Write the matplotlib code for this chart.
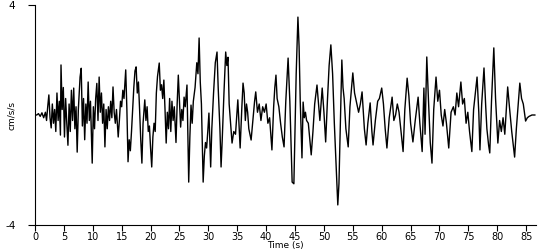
import matplotlib
matplotlib.use("Agg")
import matplotlib.pyplot as plt

# time (s) and acceleration (cm/s/s)
t = [0, 0.3, 0.6, 0.9, 1.2, 1.5, 1.8, 2.0, 2.2, 2.4, 2.6, 2.8, 3.0, 3.2, 3.4, 3.6, 3.8, 4.0, 4.2, 4.4,
     4.5, 4.7, 4.9, 5.1, 5.3, 5.5, 5.7, 5.9, 6.1, 6.3, 6.5, 6.7, 6.9, 7.1, 7.3, 7.5, 7.8, 8.0, 8.2, 8.4,
     8.6, 8.8, 9.0, 9.2, 9.4, 9.6, 9.9, 10.1, 10.3, 10.5, 10.7, 10.9, 11.1, 11.3, 11.5, 11.7, 11.9, 12.1, 12.3, 12.5,
     12.7, 12.9, 13.1, 13.3, 13.5, 13.7, 13.9, 14.1, 14.4, 14.6, 14.8, 15.0, 15.2, 15.4, 15.7, 15.9, 16.1, 16.3, 16.5, 16.7,
     16.9, 17.1, 17.3, 17.5, 17.7, 17.9, 18.1, 18.3, 18.5, 18.7, 19.0, 19.2, 19.4, 19.6, 19.8, 20.0, 20.2, 20.4, 20.6, 20.8,
     21.0, 21.2, 21.5, 21.7, 21.9, 22.1, 22.3, 22.5, 22.7, 22.9, 23.1, 23.3, 23.5, 23.7, 23.9, 24.1, 24.4, 24.6, 24.8, 25.0,
     25.2, 25.4, 25.6, 25.8, 26.0, 26.3, 26.6, 26.8, 27.0, 27.2, 27.4, 27.7, 28.0, 28.2, 28.4, 28.6, 28.8, 29.1, 29.3, 29.5,
     29.7, 29.9, 30.1, 30.4, 30.6, 30.9, 31.2, 31.5, 31.7, 32.0, 32.2, 32.4, 32.7, 33.0, 33.2, 33.4, 33.6, 34.1, 34.4, 34.7,
     35.1, 35.5, 35.8, 36.0, 36.2, 36.4, 36.6, 36.8, 37.0, 37.4, 37.7, 38.0, 38.2, 38.5, 38.8, 39.1, 39.4, 39.7, 40.0, 40.3,
     40.6, 41.0, 41.3, 41.5, 41.7, 41.9, 42.2, 42.5, 42.8, 43.1, 43.4, 43.8, 44.1, 44.5, 44.8, 45.0, 45.2, 45.5, 45.7, 45.9,
     46.2, 46.4, 46.6, 46.8, 47.0, 47.3, 47.8, 48.1, 48.4, 48.8, 49.1, 49.3, 49.7, 50.0, 50.3, 50.6, 50.9, 51.2, 51.5, 51.8,
     52.1, 52.4, 52.6, 52.9, 53.1, 53.3, 53.5, 53.8, 54.2, 54.5, 55.0, 55.3, 55.6, 56.0, 56.3, 56.6, 57.0, 57.3, 57.6, 58.0,
     58.3, 58.5, 58.9, 59.3, 59.6, 60.0, 60.3, 60.6, 60.9, 61.3, 61.8, 62.1, 62.4, 62.7, 63.0, 63.3, 63.7, 64.0, 64.4, 64.7,
     65.0, 65.4, 65.8, 66.3, 66.6, 67.0, 67.3, 67.5, 67.8, 68.1, 68.4, 68.7, 69.0, 69.4, 69.7, 70.0, 70.3, 70.6, 70.9, 71.2,
     71.6, 72.0, 72.4, 72.7, 73.0, 73.3, 73.7, 74.0, 74.3, 74.6, 74.9, 75.2, 75.6, 75.9, 76.2, 76.5, 76.8, 77.0, 77.3, 77.7,
     78.0, 78.2, 78.5, 78.7, 79.0, 79.4, 79.7, 80.1, 80.4, 80.7, 81.0, 81.3, 81.8, 82.1, 82.5, 83.0, 83.3, 83.9, 84.2, 84.5,
     84.9, 85.2, 85.5, 86.0, 86.5]
acc = [0, 0, 0.05, -0.05, 0.08, -0.1, 0.1, -0.2, 0.3, 0.73, -0.1, -0.47, 0.4, -0.3, 0.2, -0.6, 0.8, -0.2, 0.5, -0.73,
       1.82, 0.2, 1.0, -0.8, 0.6, -0.3, -1.1, 0.4, -0.6, 0.9, -0.2, 0.98, -0.5, 0.3, -1.35, 0.2, 1.38, 1.7, -0.4, 0.6,
       -0.9, 0.4, -0.3, 1.2, -0.2, 0.5, -1.75, 0.3, -0.5, 0.6, 1.15, -0.2, 1.38, 0.1, 0.8, -0.3, 0.4, -1.16, 0.2, -0.5,
       0.3, -0.2, 0.5, -0.1, 1.02, 0.1, -0.3, 0.2, -0.8, -0.2, 0.5, 0.3, 0.9, 0.6, 1.64, 0.2, -1.7, -0.9, -1.3, -0.6,
       0.2, 1.0, 1.6, 1.75, 0.8, 1.2, 0.2, -0.9, -1.75, -0.3, 0.55, -0.2, 0.3, -0.6, -0.4, -1.2, -1.89, -0.8, -0.3, -0.6,
       0.8, 1.4, 1.89, 0.9, 1.1, 0.6, 1.27, 0.2, -1.02, 0.1, -0.5, 0.6, -0.6, 0.5, -0.2, 0.3, -1.0, 0.4, 1.45, 0.5,
       -0.44, 0.2, -0.2, 0.65, 0.3, 1.09, -2.44, -0.8, 0.36, -0.3, 0.5, 1.0, 1.9, 1.5, 2.8, 1.2, 0.4, -2.44, -1.5, -1.0,
       -1.2, -0.6, 0.07, -1.89, -0.5, 0.8, 1.9, 2.29, 1.0, -0.5, -1.89, -0.9, 0.8, 2.29, 1.8, 2.1, 0.4, -1.02, -0.6, -0.7,
       0.55, -1.2, 0.3, 1.16, 0.8, -0.2, 0.4, 0.1, -0.5, -0.91, -0.2, 0.5, 0.84, 0.1, 0.4, -0.2, 0.3, 0.1, 0.4, -0.3,
       -0.1, -1.27, 0.3, 1.0, 1.45, 0.6, 0.3, -0.3, -0.8, -1.16, 0.5, 2.07, 0.5, -2.44, -2.5, -0.5, 1.5, 3.56, 2.5, 0.5,
       -1.56, 0.47, -0.1, 0.1, -0.2, -0.3, -1.45, -0.6, 0.4, 1.09, 0.3, -0.2, 0.98, 0.1, -0.98, 0.5, 1.8, 2.55, 1.5, -0.3,
       -1.8, -3.27, -2.5, 0.2, 2.0, 1.0, 0.6, -0.5, -1.16, 0.3, 1.53, 0.8, 0.5, 0.1, 0.4, 0.84, -0.5, -1.09, -0.3, 0.44,
       -0.6, -1.09, -0.2, 0.5, 0.6, 0.98, 0.4, -0.5, -1.2, -0.1, 0.65, -0.2, 0.0, 0.4, 0.1, -0.5, -1.33, 0.2, 1.34, 0.7,
       -0.3, -0.98, -0.2, 0.65, -0.3, -1.33, 0.98, -0.7, 2.11, 0.5, -1.0, -1.75, 0.2, 1.38, 0.5, 0.9, 0.0, -0.4, 0.2, -0.3,
       -1.2, 0.1, 0.3, 0.0, 0.8, 0.3, 1.2, 0.4, 0.6, -0.3, 0.1, -0.6, -1.33, 0.2, 0.8, 1.38, 0.1, -1.27, 0.4, 1.71,
       0.3, -0.5, -1.1, -1.38, 0.5, 2.44, 0.6, -1.02, -0.2, -0.6, -0.1, -0.7, 1.02, 0.3, -0.6, -1.53, -0.5, 1.16, 0.6, 0.4,
       -0.22, -0.1, -0.05, 0.0, 0.0]

fig = plt.figure(figsize=(5.5, 2.5), dpi=100)
ax = fig.add_axes([35/550, 25/250, 501/550, 220/250])
ax.plot(t, acc, color="black", lw=1.0)

ax.set_xlim(0, 86.7)
ax.set_ylim(-4, 4)
ax.set_xticks(range(0, 90, 5))
ax.set_yticks([-4, 4])
ax.set_yticklabels(["-4", "4"])
for s in ["top", "right"]:
    ax.spines[s].set_visible(False)
ax.tick_params(axis="x", length=4, labelsize=7, pad=1, color="black")
ax.tick_params(axis="y", length=5, labelsize=7.5, pad=9)
ax.set_xlabel("Time (s)", fontsize=6.5, labelpad=-1)
ax.set_ylabel("cm/s/s", fontsize=6.5)
ax.yaxis.set_label_coords(-0.038, 0.5)

fig.savefig("out.png", dpi=100)
